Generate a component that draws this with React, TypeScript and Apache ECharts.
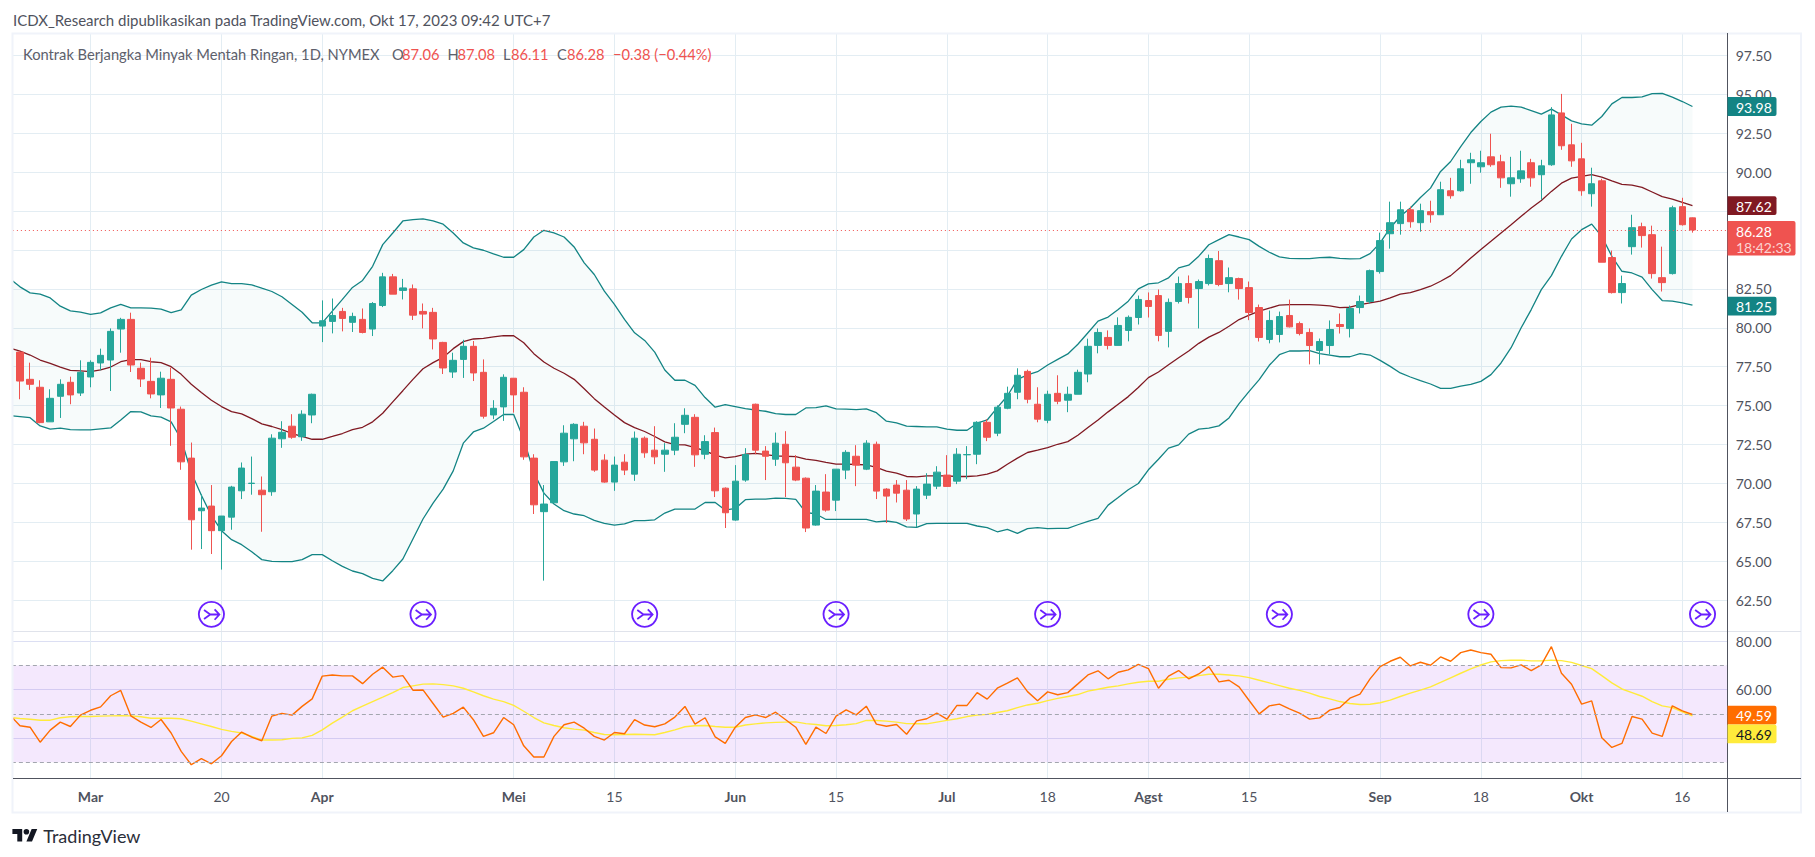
import React, { useEffect, useRef } from "react";
import * as echarts from "echarts";

const FONT = "Lato, 'Noto Sans', sans-serif";
const BAND = 10.075;
const FIRST_X = 20; // centre of the first candle
const GRID_LEFT = FIRST_X - 1.5 * BAND;
const GRID_WIDTH = 171 * BAND;

// open, close, low, high
const candleRows: number[][] = [
[78.44,76.58,75.41,78.5],[76.69,76.37,76.01,77.76],[76.18,73.91,73.87,76.63],[73.96,75.47,73.96,76.05],[75.6,76.37,74.21,76.69],
[76.5,75.69,75.09,76.86],[75.81,77.14,75.62,77.91],[76.84,77.78,76.18,77.91],[77.74,78.23,77.27,78.66],[77.93,79.77,75.94,79.96],
[79.92,80.54,78.4,80.64],[80.54,77.61,77.16,80.97],[77.4,76.71,76.2,77.76],[76.56,75.75,75.47,78.08],[75.69,76.76,74.85,77.18],
[76.69,74.85,72.42,77.44],[74.77,71.39,70.88,74.94],[71.63,67.67,65.75,72.63],[68.25,68.42,65.79,69.32],[68.55,66.97,65.47,69.9],
[66.97,67.91,64.47,67.91],[67.84,69.77,67.03,69.85],[69.53,70.99,69.0,71.35],[70.0,70.02,69.28,71.73],[69.57,69.28,66.9,70.45],
[69.47,72.91,69.21,73.16],[72.87,73.29,72.29,74.0],[73.68,72.97,72.87,74.45],[73.0,74.45,72.74,74.7],[74.4,75.73,73.87,75.77],
[80.11,80.45,79.08,81.76],[80.41,80.79,79.64,81.88],[81.05,80.6,79.77,81.28],[80.35,80.73,79.73,80.97],[80.54,79.7,79.64,81.24],
[79.92,81.56,79.47,81.65],[81.43,83.27,81.33,83.53],[83.27,82.16,82.16,83.46],[82.4,82.56,81.82,83.14],[82.5,80.81,80.5,82.78],
[81.05,80.88,79.96,81.56],[80.99,79.28,78.61,81.28],[79.06,77.42,77.03,79.1],[77.16,77.91,76.78,78.4],[77.97,78.81,76.78,79.23],
[78.81,77.1,76.58,79.15],[77.14,74.32,74.17,77.97],[74.4,74.83,74.13,75.35],[74.92,76.82,74.02,77.01],[76.76,75.69,74.55,76.76],
[75.86,71.71,71.52,76.18],[71.63,68.63,68.04,71.88],[68.19,68.68,63.76,69.9],[68.76,71.41,68.76,71.41],[71.39,73.23,71.13,73.74],
[72.87,73.8,71.43,73.87],[73.68,72.61,71.88,73.96],[72.84,70.86,70.75,73.53],[71.5,70.09,70.05,71.88],[70.09,71.18,69.53,71.73],
[71.37,70.86,70.54,71.88],[70.6,72.91,70.17,73.34],[72.91,71.97,71.65,73.02],[72.14,71.71,71.24,73.68],[71.88,72.14,70.75,72.59],
[72.14,72.97,71.82,73.87],[73.8,74.38,73.23,74.83],[74.25,71.84,71.07,74.45],[71.88,72.69,71.56,73.1],[73.27,69.53,69.13,73.59],
[69.7,68.12,67.14,69.75],[67.65,70.15,67.61,71.18],[70.22,71.86,70.11,72.27],[75.09,72.14,71.88,75.13],[72.08,71.75,70.22,72.4],
[71.56,72.59,71.13,73.27],[72.52,71.33,69.13,73.36],[71.05,70.22,70.15,71.82],[70.34,67.14,66.88,70.39],[67.33,69.51,67.29,69.9],
[69.45,68.29,68.19,70.6],[68.93,70.92,68.23,70.92],[70.86,72.0,70.28,72.14],[71.75,71.18,69.83,72.46],[70.92,72.59,70.86,72.78],
[72.52,69.51,69.0,72.69],[69.64,69.19,67.46,69.7],[69.9,69.38,68.78,70.22],[69.57,67.72,67.59,70.22],[68.04,69.64,67.2,69.83],
[69.25,69.96,69.0,70.66],[69.83,70.73,69.64,71.11],[70.54,69.81,69.81,71.82],[70.15,71.88,69.96,72.27],[71.84,71.86,70.28,72.4],
[71.88,73.93,71.24,74.0],[73.93,72.97,72.72,74.13],[73.23,74.9,73.04,75.02],[74.83,75.79,74.77,76.22],[75.86,76.95,75.41,77.4],
[77.2,75.41,75.15,77.31],[75.09,74.13,73.93,76.18],[74.06,75.73,73.87,75.96],[75.79,75.28,75.09,76.95],[75.35,75.73,74.58,76.22],
[75.73,77.14,75.73,77.31],[77.03,78.81,76.5,79.3],[78.87,79.7,78.36,79.96],[79.38,78.87,78.61,79.83],[78.87,80.15,78.87,80.67],
[79.83,80.67,79.13,80.79],[80.66,81.82,80.21,82.07],[81.75,81.37,80.66,82.27],[82.07,79.51,79.13,82.46],[79.77,81.63,78.74,81.88],
[81.69,82.84,81.56,83.29],[82.84,81.95,81.56,83.36],[82.52,82.97,79.96,83.1],[82.84,84.45,82.72,84.7],[84.31,82.78,82.67,84.93],
[82.84,83.22,82.28,83.87],[83.16,82.52,81.81,83.22],[82.58,80.98,80.49,82.97],[81.3,79.38,79.12,81.49],[79.25,80.47,79.0,81.11],
[79.57,80.72,79.06,81.04],[80.79,80.06,80.02,81.81],[80.27,79.63,79.51,80.4],[79.7,78.86,77.65,79.96],[78.54,79.12,77.65,79.31],
[78.86,79.89,78.29,80.47],[80.21,80.08,79.63,80.92],[79.95,81.24,79.38,81.43],[81.3,81.69,80.92,82.07],[81.69,83.67,81.56,83.74],
[83.61,85.6,83.48,86.11],[86.04,86.75,85.08,88.1],[86.69,87.58,85.98,88.1],[87.58,86.81,86.43,87.78],[86.75,87.52,86.17,87.97],
[87.46,87.26,86.75,88.16],[87.26,88.87,87.26,89.38],[88.8,88.48,88.29,89.63],[88.8,90.21,88.74,90.79],[90.6,90.79,89.25,91.24],
[90.34,90.6,89.96,91.37],[90.98,90.47,90.34,92.46],[90.66,89.63,88.99,91.11],[89.25,89.63,88.42,90.98],[89.57,90.08,89.31,91.37],
[90.6,89.63,89.06,90.85],[89.83,90.4,88.22,90.79],[90.47,93.67,90.4,94.17],[93.8,91.69,91.43,95.02],[91.75,90.72,90.34,93.1],
[90.85,88.8,88.48,91.88],[88.61,89.25,87.78,90.28],[89.44,84.21,84.21,89.57],[84.51,82.26,82.2,84.96],[82.26,82.84,81.56,83.35],
[85.21,86.43,84.7,87.26],[86.49,85.92,85.15,86.75],[85.98,83.48,83.16,86.56],[83.22,82.9,82.33,85.21],[83.48,87.71,83.42,87.84],
[87.78,86.62,86.56,88.35],[87.06,86.28,86.11,87.08],
];

// Bollinger bands; the first value belongs to the bar just left of the visible range
const bbUpper = [83.15,82.63,82.24,82.16,81.92,81.39,81.09,81.0,80.86,80.96,81.28,81.5,81.28,81.28,81.26,81.2,80.98,81.15,82.1,82.46,82.74,82.95,82.84,82.84,82.76,82.54,82.33,81.99,81.5,81.0,80.32,80.32,81.07,81.82,82.59,83.04,83.95,85.34,86.09,86.86,86.95,86.99,86.86,86.65,86.09,85.45,85.13,84.98,84.75,84.53,84.53,85.02,85.83,86.26,86.09,85.83,85.19,84.17,83.42,82.35,81.5,80.54,79.68,79.19,78.44,77.29,76.63,76.63,76.3,75.52,74.9,75.07,74.94,74.81,74.72,74.64,74.49,74.43,74.43,74.85,74.87,74.98,74.79,74.77,74.75,74.79,74.55,74.0,73.89,73.68,73.66,73.64,73.64,73.49,73.42,73.42,73.87,74.08,74.87,75.62,76.69,76.97,77.18,77.61,77.97,78.32,78.94,79.68,80.43,80.69,81.18,81.71,82.5,82.82,82.89,83.21,83.85,84.02,84.6,85.33,85.66,85.98,85.83,85.66,85.23,84.85,84.55,84.46,84.44,84.44,84.5,84.53,84.46,84.42,84.44,84.76,85.45,86.41,87.16,87.69,88.37,88.97,90.04,90.68,91.64,92.54,93.25,93.85,94.17,94.23,94.17,93.95,93.72,94.04,93.67,93.29,93.1,93.01,93.57,94.38,94.79,94.79,94.83,95.04,95.06,94.81,94.53,94.21];
const bbBasis = [78.7,78.5,78.25,77.93,77.72,77.48,77.27,77.23,77.18,77.29,77.48,77.82,77.95,77.95,77.82,77.76,77.5,77.01,76.37,75.84,75.35,74.94,74.62,74.47,74.17,73.83,73.66,73.46,73.21,73.02,72.84,72.84,73.02,73.21,73.46,73.61,73.96,74.51,75.24,75.96,76.69,77.37,77.76,78.1,78.66,79.11,79.28,79.32,79.41,79.49,79.49,79.04,78.34,77.8,77.4,77.08,76.69,76.09,75.45,74.92,74.4,73.91,73.59,73.34,73.02,72.67,72.5,72.48,72.31,72.1,71.82,71.65,71.73,71.88,71.93,71.86,71.78,71.75,71.73,71.56,71.48,71.35,71.24,71.24,71.22,71.2,71.03,70.79,70.66,70.45,70.43,70.49,70.49,70.49,70.45,70.45,70.49,70.6,70.81,71.24,71.63,71.99,72.14,72.31,72.52,72.69,73.1,73.59,74.08,74.6,75.09,75.58,76.16,76.8,77.16,77.63,78.08,78.51,79.0,79.4,79.7,80.1,80.53,80.81,81.07,81.26,81.45,81.49,81.49,81.49,81.45,81.41,81.3,81.32,81.49,81.6,81.71,81.92,82.16,82.26,82.45,82.67,82.99,83.35,83.91,84.48,85.02,85.55,86.09,86.62,87.16,87.69,88.18,88.76,89.29,89.61,89.72,89.83,89.68,89.44,89.21,89.16,89.02,88.72,88.42,88.27,88.05,87.84];
const bbLower = [74.36,74.3,74.23,73.7,73.49,73.55,73.46,73.44,73.44,73.51,73.57,74.08,74.62,74.6,74.34,74.26,73.96,72.84,70.71,69.25,67.93,66.97,66.39,66.07,65.62,65.11,65.0,64.98,64.98,65.11,65.43,65.43,65.04,64.68,64.38,64.21,63.91,63.74,64.4,65.15,66.43,67.72,68.74,69.64,70.81,72.59,73.31,73.55,73.98,74.43,74.43,72.84,70.71,69.38,68.68,68.25,68.04,67.93,67.63,67.44,67.33,67.4,67.61,67.61,67.67,68.1,68.36,68.36,68.36,68.78,68.78,68.29,68.4,68.96,69.0,69.0,69.06,69.04,68.98,68.14,68.04,67.69,67.69,67.69,67.69,67.69,67.54,67.59,67.5,67.22,67.18,67.42,67.44,67.44,67.44,67.44,67.27,67.16,66.9,67.05,66.8,67.1,67.16,67.1,67.12,67.12,67.35,67.57,67.76,68.61,69.1,69.6,70.0,70.88,71.56,72.27,72.48,73.17,73.49,73.55,73.7,74.21,75.13,75.92,76.67,77.59,78.27,78.51,78.51,78.53,78.34,78.25,78.14,78.14,78.34,78.25,77.91,77.52,77.1,76.84,76.6,76.39,76.11,76.11,76.26,76.37,76.56,76.99,77.74,78.72,80.0,81.17,82.45,83.35,84.59,85.7,86.3,86.66,85.87,84.59,83.63,83.52,83.25,82.45,81.75,81.71,81.6,81.45];

const rsi = [49.5,45.1,44.5,38.3,43.3,46.6,44.8,49.5,51.5,52.9,57.5,59.7,49.2,46.6,44.4,47.7,42.1,34.5,29.0,31.5,29.4,32.7,38.6,42.5,40.4,38.9,49.1,50.2,49.5,53.1,56.2,65.6,66.1,65.7,65.7,62.5,66.4,69.3,65.2,65.8,59.8,59.9,54.3,48.7,50.2,52.8,47.6,40.7,42.2,48.5,45.5,36.8,32.2,32.2,40.7,45.5,46.6,44.1,40.7,39.2,42.3,41.8,47.6,45.4,44.7,45.9,48.7,53.1,45.8,48.4,40.5,37.8,44.5,48.5,49.6,48.5,50.7,47.6,44.5,37.4,44.5,41.9,49.1,51.7,49.6,53.2,45.8,44.9,45.6,41.6,47.1,48,50.3,47.8,53.5,53.5,58.8,56.1,60.6,62.7,64.9,59.2,55.4,59.1,57.9,58.8,62.4,66.1,67.8,64.5,67.2,68.2,70.5,68.7,60.6,65.6,67.9,64.5,66.5,69.55,63.23,63.92,61.17,55.53,50.03,53.33,54.02,52.09,50.31,47.83,48.38,51.54,52.64,56.49,58.14,64.47,69.55,71.75,73.4,69.83,71.34,70.1,73.54,71.75,75.33,76.42,75.33,74.64,69.14,69.0,70.24,67.9,70.24,77.8,66.8,62.27,54.02,55.39,40.14,36.15,37.8,48.93,47.83,42.06,40.68,53.33,51.27,49.76];
const rsiMa = [48.5,48.1,47.8,47.4,47.4,48.4,48.8,48.9,48.9,49.1,49.2,49.3,49.2,48.8,48.2,48.2,48.2,48,47,45.9,44.8,43.6,42.8,42.1,40.7,39.2,39.2,39.3,39.9,40.1,41.1,43.4,46.2,48.7,51.3,53.2,55.1,56.9,58.8,60.9,61.6,62.3,62.4,62.1,61.6,60.6,59.1,57.5,56.1,55.1,53.5,51.1,48.5,46.3,45.2,44.3,43.7,43.3,42.3,41.5,41.4,41.5,41.6,41.5,41.4,42.3,43.4,44.7,45.1,45.2,44.8,44.5,44.5,45.4,45.9,46.3,46.5,46.6,46.7,46,45.6,45.1,45.2,45.5,46,47.3,47.3,47,46.6,46,45.9,45.9,46.6,47.3,48,48.9,49.5,49.8,50.6,51.3,52.6,53.7,54.4,55.5,56.4,57.2,58,59.4,60.2,61,61.6,62.4,63.1,63.5,63.5,64.3,64.9,65.2,65.8,66.4,66.4,66.1,65.7,65,63.9,62.8,61.7,60.6,59.7,58.6,57.2,56.2,55.1,54.3,53.9,54,54.6,55.7,57.2,58.6,59.8,61.2,63,64.9,66.8,68.6,70.2,71.5,72,72.2,72.2,71.9,71.9,72.2,72,71.3,70,68.7,65.8,62.8,60.3,58.8,57.3,55.1,53.3,52.6,50.8,49.2];

const tickIndex = [7,20,30,49,59,71,81,92,102,112,122,135,145,155,165];
const tickText = ["Mar","20","Apr","Mei","15","Jun","15","Jul","18","Agst","15","Sep","18","Okt","16"];
const boldTicks = ["Mar","Apr","Mei","Jun","Jul","Agst","Sep","Okt"];
const rollIndex = [19,40,62,81,102,125,145,167];
const hiddenPriceLabels = [85, 87.5]; // covered by the value badges in the reference
const hiddenRsiLabels = [40];
const ROLL_LEVEL = 61.6;
const LAST_PRICE = 86.28;
const RSI_LEVELS = [70, 50, 30];
const TITLE = "ICDX_Research dipublikasikan pada TradingView.com, Okt 17, 2023 09:42 UTC+7";
const LEGEND_NAME = "Kontrak Berjangka Minyak Mentah Ringan, 1D, NYMEX";
const COUNTDOWN = "18:42:33";

const ROLL_ICON =
  "path://M12 1a11 11 0 1 0 0.01 0zM5.5 8.2L11 12.2L5.5 16.2M11 12.2H18.5M14.8 7.6L19 12.2L14.8 16.8";
const LOGO_PATH =
  "M14 22H7V11H0V4h14v18zM28 22h-8l7.5-18h8L28 22zM24 8a4 4 0 1 1-8 0 4 4 0 0 1 8 0z";
echarts.graphic.registerShape("tvlogo", echarts.graphic.extendPath(LOGO_PATH, {}));

const GRID = "#e3edf3";
const AXIS = "#50535e";
const UP = "#26a69a";
const DOWN = "#ef5350";
const TEAL = "#138484";
const MAROON = "#801922";

export default function App() {
  const ref = useRef<HTMLDivElement>(null);
  useEffect(() => {
    const chart = echarts.init(ref.current!, undefined, { renderer: "svg" });
    const cats = Array.from({ length: 171 }, (_, i) => String(i - 1));
    const decoCats = Array.from({ length: 171 }, (_, i) => String(i - 1));
    const candleData: any[] = [["-", "-", "-", "-"], ...candleRows];
    const lineBase = {
      type: "line" as const,
      showSymbol: false,
      symbol: "none",
      silent: true,
      smooth: false,
      animation: false,
    };
    const text = (x: number, y: number, t: string, fill: string, size = 15, extra: any = {}) => ({
      type: "text",
      x,
      y,
      z: 60,
      silent: true,
      style: { text: t, fill, font: `${size}px ${FONT}`, textVerticalAlign: "middle", verticalAlign: "middle", ...extra },
    });

    chart.setOption({
      animation: false,
      textStyle: { fontFamily: FONT },
      grid: [
        { left: GRID_LEFT, width: GRID_WIDTH, top: 16.37, height: 622.83 },
        { left: GRID_LEFT, width: GRID_WIDTH, top: 592.9, height: 193.6 },
        { left: FIRST_X - BAND, width: 170 * BAND, top: 33, height: 745 },
      ],
      xAxis: [
        { type: "category", gridIndex: 0, data: cats, show: false },
        { type: "category", gridIndex: 1, data: cats, show: false },
        {
          type: "category",
          gridIndex: 2,
          data: decoCats,
          boundaryGap: false,
          axisLine: { show: false },
          axisTick: { show: false },
          splitLine: {
            show: true,
            interval: (i: number) => tickIndex.includes(i - 1),
            lineStyle: { color: GRID, width: 1 },
          },
          axisLabel: {
            show: true,
            margin: 11,
            interval: (i: number) => tickIndex.includes(i - 1),
            formatter: (_: string, i: number) => {
              const t = tickText[tickIndex.indexOf(i - 1)] ?? "";
              return boldTicks.includes(t) ? `{b|${t}}` : `{n|${t}}`;
            },
            rich: {
              b: { fontFamily: FONT, fontSize: 14, fontWeight: "bold", color: AXIS },
              n: { fontFamily: FONT, fontSize: 14, color: AXIS },
            },
          },
        },
      ],
      yAxis: [
        {
          type: "value",
          gridIndex: 0,
          position: "right",
          min: 60,
          max: 100,
          interval: 2.5,
          axisLine: { show: false },
          axisTick: { show: false },
          splitLine: { show: true, showMinLine: false, showMaxLine: false, lineStyle: { color: GRID, width: 1 } },
          axisLabel: {
            show: true,
            margin: 8,
            showMinLabel: false,
            showMaxLabel: false,
            color: AXIS,
            fontSize: 14,
            fontFamily: FONT,
            formatter: (v: number) => (hiddenPriceLabels.includes(v) ? "" : v.toFixed(2)),
          },
        },
        {
          type: "value",
          gridIndex: 1,
          position: "right",
          min: 20,
          max: 100,
          interval: 20,
          axisLine: { show: false },
          axisTick: { show: false },
          splitLine: { show: true, showMinLine: false, showMaxLine: false, lineStyle: { color: "#dcdff3", width: 1 } },
          axisLabel: {
            show: true,
            margin: 8,
            showMinLabel: false,
            showMaxLabel: false,
            color: AXIS,
            fontSize: 14,
            fontFamily: FONT,
            formatter: (v: number) => (hiddenRsiLabels.includes(v) ? "" : v.toFixed(2)),
          },
        },
        { type: "value", gridIndex: 2, show: false, min: 0, max: 1 },
      ],
      series: [
        {
          ...lineBase,
          name: "BB Lower",
          xAxisIndex: 0,
          yAxisIndex: 0,
          z: 3,
          stack: "bb",
          data: bbLower,
          lineStyle: { color: TEAL, width: 1.3 },
        },
        {
          ...lineBase,
          name: "BB Fill",
          xAxisIndex: 0,
          yAxisIndex: 0,
          z: 2,
          stack: "bb",
          data: bbUpper.map((u, i) => +(u - bbLower[i]).toFixed(2)),
          lineStyle: { width: 0, opacity: 0 },
          areaStyle: { color: "rgba(19,132,132,0.05)" },
        },
        {
          ...lineBase,
          name: "BB Upper",
          xAxisIndex: 0,
          yAxisIndex: 0,
          z: 3,
          data: bbUpper,
          lineStyle: { color: TEAL, width: 1.3 },
        },
        {
          ...lineBase,
          name: "BB Basis",
          xAxisIndex: 0,
          yAxisIndex: 0,
          z: 3,
          data: bbBasis,
          lineStyle: { color: MAROON, width: 1.3 },
        },
        {
          type: "candlestick",
          name: "CL1!",
          xAxisIndex: 0,
          yAxisIndex: 0,
          z: 4,
          silent: true,
          barWidth: 7,
          data: candleData,
          itemStyle: { color: UP, color0: DOWN, borderColor: UP, borderColor0: DOWN, borderWidth: 1 },
          markLine: {
            silent: true,
            symbol: "none",
            label: { show: false },
            lineStyle: { type: [1, 3], color: DOWN, width: 1 },
            data: [{ yAxis: LAST_PRICE }],
          },
        },
        {
          type: "scatter",
          name: "Roll",
          xAxisIndex: 0,
          yAxisIndex: 0,
          z: 5,
          silent: true,
          symbol: ROLL_ICON,
          symbolSize: 25,
          symbolKeepAspect: true,
          itemStyle: { color: "rgba(0,0,0,0)", borderColor: "#6a1fff", borderWidth: 1.8, opacity: 1 },
          data: rollIndex.map((i) => [i + 1, ROLL_LEVEL]),
        },
        {
          ...lineBase,
          name: "RSI MA",
          xAxisIndex: 1,
          yAxisIndex: 1,
          z: 3,
          data: rsiMa,
          lineStyle: { color: "#ffeb3b", width: 1.4 },
        },
        {
          ...lineBase,
          name: "RSI",
          xAxisIndex: 1,
          yAxisIndex: 1,
          z: 4,
          data: rsi,
          lineStyle: { color: "#ff6d00", width: 1.4 },
          markArea: {
            silent: true,
            itemStyle: { color: "rgba(151,50,238,0.11)" },
            data: [[{ yAxis: RSI_LEVELS[0] }, { yAxis: RSI_LEVELS[2] }]],
          },
          markLine: {
            silent: true,
            symbol: "none",
            label: { show: false },
            lineStyle: { type: [4, 3], color: "#a3a6af", width: 1 },
            data: RSI_LEVELS.map((v) => ({ yAxis: v })),
          },
        },
      ],
    });

    const py = (v: number) => chart.convertToPixel({ yAxisIndex: 0 }, v) as number;
    const ry = (v: number) => chart.convertToPixel({ yAxisIndex: 1 }, v) as number;
    const AX = 1727.5;
    const badge = (cy: number, label: string, bg: string, fg: string) => [
      { type: "rect", z: 55, silent: true, shape: { x: AX, y: cy - 9.4, width: 49, height: 18.8, r: [0, 2, 2, 0] }, style: { fill: bg } },
      text(AX + 8.5, cy + 0.5, label, fg, 14),
    ];
    const lastUp = bbUpper[bbUpper.length - 1];
    const lastBasis = bbBasis[bbBasis.length - 1];
    const lastLow = bbLower[bbLower.length - 1];
    const lastClose = candleRows[candleRows.length - 1][1];
    const orangeY = ry(rsi[rsi.length - 1]) + 0.6;
    const legendY = 54;
    const LEGEND_SIZE = 14.7;
    const elements: any[] = [
      { type: "rect", z: 40, silent: true, shape: { x: 0, y: 33, width: 12, height: 780 }, style: { fill: "#fff" } },
      { type: "rect", z: 41, silent: true, shape: { x: 12.5, y: 33.5, width: 1788.5, height: 779 }, style: { fill: "none", stroke: "#f0f3fa", lineWidth: 2 } },
      { type: "line", z: 42, silent: true, shape: { x1: 13, y1: 631.5, x2: 1801, y2: 631.5 }, style: { stroke: "#e0e3eb", lineWidth: 1 } },
      { type: "line", z: 42, silent: true, shape: { x1: 13, y1: 778.5, x2: 1801, y2: 778.5 }, style: { stroke: AXIS, lineWidth: 1 } },
      { type: "line", z: 42, silent: true, shape: { x1: AX, y1: 33, x2: AX, y2: 812 }, style: { stroke: AXIS, lineWidth: 1 } },
      text(13, 20, TITLE, "#50535e", 15),
      text(23, legendY, LEGEND_NAME, "#5d606b", LEGEND_SIZE),
      text(392, legendY, "O", "#5d606b", LEGEND_SIZE),
      text(402, legendY, "87.06", DOWN, LEGEND_SIZE),
      text(447.5, legendY, "H", "#5d606b", LEGEND_SIZE),
      text(457.5, legendY, "87.08", DOWN, LEGEND_SIZE),
      text(503, legendY, "L", "#5d606b", LEGEND_SIZE),
      text(511, legendY, "86.11", DOWN, LEGEND_SIZE),
      text(557, legendY, "C", "#5d606b", LEGEND_SIZE),
      text(567, legendY, "86.28", DOWN, LEGEND_SIZE),
      text(613, legendY, "\u22120.38 (\u22120.44%)", DOWN, LEGEND_SIZE),
      ...badge(py(lastUp), "93.98", TEAL, "#fff"),
      ...badge(py(lastBasis), "87.62", MAROON, "#fff"),
      ...badge(py(lastLow) + 1, "81.25", TEAL, "#fff"),
      { type: "rect", z: 55, silent: true, shape: { x: AX, y: py(lastClose) - 9, width: 68, height: 34.5, r: [0, 2, 2, 0] }, style: { fill: DOWN } },
      text(AX + 8.5, py(lastClose) + 1, "86.28", "#fff", 14),
      text(AX + 8.5, py(lastClose) + 17, COUNTDOWN, "rgba(255,255,255,0.75)", 14),
      ...badge(orangeY, "49.59", "#ff6d00", "#fff"),
      ...badge(orangeY + 18.8, "48.69", "#ffeb3b", "#131722"),
      { type: "tvlogo", z: 60, silent: true, x: 12.4, y: 826.2, scaleX: 0.7, scaleY: 0.7, style: { fill: "#131722" } },
      text(43.3, 836, "TradingView", "#2a2e39", 18),
    ];
    chart.setOption({ graphic: { elements } });
    return () => chart.dispose();
  }, []);
  return <div ref={ref} style={{ position: "absolute", left: 0, top: 0, width: 1815, height: 857, background: "#fff" }} />;
}
